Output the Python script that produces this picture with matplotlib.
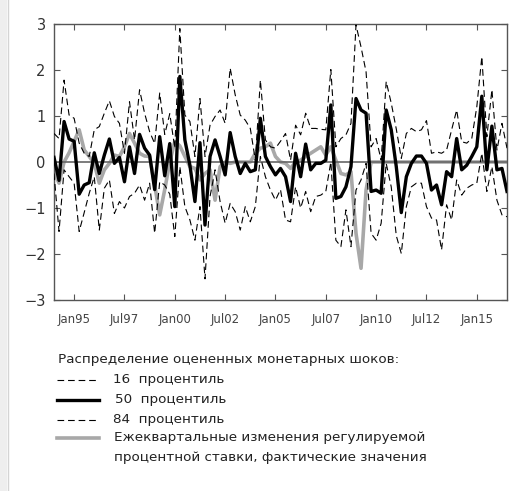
import numpy as np
import matplotlib
matplotlib.use("Agg")
import matplotlib.pyplot as plt
from matplotlib.lines import Line2D
from matplotlib.patches import Rectangle

# quarterly data, 1994Q1 .. 2016Q3
p50 = [0.1, -0.4, 0.88, 0.5, 0.45, -0.7, -0.5, -0.45, 0.2, -0.25,
       0.15, 0.5, -0.03, 0.1, -0.43, 0.33, -0.25, 0.6, 0.3, 0.15,
       -0.6, 0.55, -0.3, 0.4, -0.97, 1.86, 0.48, -0.07, -0.86, 0.42,
       -1.37, 0.12, 0.48, 0.12, -0.28, 0.64, 0.12, -0.25, -0.03, -0.21,
       -0.17, 0.95, 0.12, -0.1, -0.28, -0.14, -0.32, -0.86, 0.19, -0.32,
       0.39, -0.17, -0.03, -0.03, 0.04, 1.24, -0.79, -0.75, -0.54, -0.1,
       1.38, 1.13, 1.06, -0.64, -0.61, -0.68, 1.13, 0.7, -0.1, -1.1,
       -0.32, -0.03, 0.13, 0.13, -0.03, -0.61, -0.5, -0.93, -0.21, -0.32,
       0.51, -0.17, -0.07, 0.12, 0.33, 1.43, -0.17, 0.78, -0.17, -0.14,
       -0.64]
p84 = [0.62, 0.51, 1.78, 1.02, 0.95, 0.41, 0.19, 0.12, 0.7, 0.77,
       1.06, 1.33, 0.99, 0.84, 0.19, 1.31, 0.48, 1.57, 1.06, 0.66,
       0.4, 1.5, 0.6, 1.05, 0.3, 2.9, 1.02, 0.88, 0.12, 1.38,
       0.12, 0.8, 0.99, 1.13, 0.84, 2.04, 1.46, 1.02, 0.91, 0.73,
       0.04, 1.78, 0.48, 0.33, 0.3, 0.45, 0.62, 0.04, 0.8, 0.59,
       1.06, 0.73, 0.73, 0.71, 0.7, 2.01, 0.33, 0.51, 0.59, 0.84,
       2.98, 2.5, 1.96, 0.33, 0.51, 0.04, 1.75, 1.28, 0.72, 0.08,
       0.62, 0.73, 0.66, 0.7, 0.9, 0.19, 0.22, 0.19, 0.26, 0.7,
       1.13, 0.44, 0.41, 0.51, 1.2, 2.29, 0.55, 1.57, 0.26, 0.84,
       0.3]
p16 = [-0.25, -1.51, -0.17, -0.32, -0.46, -1.51, -1.1, -0.68, -0.32, -1.48,
       -0.57, -0.39, -1.12, -0.86, -1.0, -0.75, -0.68, -0.5, -0.83, -0.46,
       -1.55, -0.43, -0.5, -0.7, -1.62, -0.1, -0.97, -1.26, -1.7, -0.97,
       -2.54, -0.75, -0.17, -0.86, -1.33, -0.9, -1.08, -1.48, -0.97, -1.3,
       -0.97, 0.12, -0.32, -0.61, -0.83, -0.6, -1.26, -1.3, -0.54, -1.0,
       -0.64, -1.08, -0.75, -0.72, -0.64, 0.0, -1.7, -1.84, -1.04, -1.84,
       -0.61, -0.39, -0.03, -1.55, -1.7, -1.33, -0.03, -0.54, -1.6, -1.99,
       -0.97, -0.54, -0.46, -0.46, -0.97, -1.22, -1.26, -1.91, -0.93, -1.26,
       -0.39, -0.72, -0.57, -0.5, -0.46, 0.19, -0.64, -0.1, -0.83, -1.15,
       -1.19]
rate = [-0.21, -0.46, 0.0, 0.2, 0.45, 0.7, 0.26, 0.12, -0.03, -0.46,
        -0.17, -0.03, 0.15, 0.12, 0.33, 0.62, 0.41, 0.19, 0.13, 0.12,
        -0.5, -1.15, -0.6, 0.0, 0.45, 0.35, 0.12, -0.1, -0.14, -0.39,
        -0.25, -0.17, -0.83, -0.1, 0.0, -0.03, 0.0, 0.0, 0.0, 0.0,
        0.19, 0.3, 0.33, 0.41, 0.12, 0.0, -0.03, -0.14, 0.0, 0.04,
        0.12, 0.19, 0.26, 0.33, 0.15, 0.33, 0.04, -0.25, -0.28, -0.21,
        -1.55, -2.31, -0.61, 0.0, 0.0, 0.0, 0.0, 0.0, 0.0, 0.0,
        0.0, 0.0, 0.0, 0.0, 0.0, 0.0, 0.0, 0.0, 0.0, 0.0,
        0.0, 0.0, 0.0, 0.0, 0.0, 0.0, 0.0, 0.0, 0.0, 0.0,
        0.0]

t = 1994 + 0.25 * np.arange(len(p50))
tick_pos = [1995, 1997.5, 2000, 2002.5, 2005, 2007.5, 2010, 2012.5, 2015]
tick_lab = ['Jan95', 'Jul97', 'Jan00', 'Jul02', 'Jan05', 'Jul07', 'Jan10', 'Jul12', 'Jan15']

plt.rcParams['font.family'] = ['DejaVu Sans']
W, H = 521, 491
fig = plt.figure(figsize=(W / 100, H / 100), dpi=100)
ax = fig.add_axes([54 / W, 1 - 300 / H, (507 - 54) / W, (300 - 24) / H])

dash = (0, (6, 3.5))
ax.plot(t, rate, color='#a8a8a8', lw=2.6, zorder=2)
ax.axhline(0, color='#666666', lw=1.2, zorder=3)
ax.plot(t, p84, color='black', lw=0.8, linestyle=dash, zorder=4)
ax.plot(t, p16, color='black', lw=0.8, linestyle=dash, zorder=4)
ax.plot(t, p50, color='black', lw=2.4, zorder=5)

ax.set_xlim(1994, 2016.5)
ax.set_ylim(-3, 3)
ax.set_xticks(tick_pos)
ax.set_xticklabels(tick_lab)
ax.set_yticks([-3, -2, -1, 0, 1, 2, 3])
ax.tick_params(direction='in', length=4, width=0.8, color='#555555',
               top=True, right=True, labelsize=8.5, labelcolor='#444444')
ax.tick_params(axis='x', pad=9)
ax.tick_params(axis='y', labelsize=10.5, pad=6, labelcolor='#333333')
for s in ax.spines.values():
    s.set_color('#555555')
    s.set_linewidth(1.0)

# legend below the chart
def fx(px):
    return px / W

def fy(py):
    return 1 - py / H

fs = 9.7
fig.text(fx(58), fy(359), 'Распределение оцененных монетарных шоков:',
         fontsize=fs, color='#222222', va='center')
rows = [
    (380, dict(color='black', lw=0.8, linestyle=dash), 113, '16  процентиль'),
    (400, dict(color='black', lw=2.4), 115, '50  процентиль'),
    (420, dict(color='black', lw=0.8, linestyle=dash), 113, '84  процентиль'),
    (438, dict(color='#a8a8a8', lw=2.6), 114, 'Ежеквартальные изменения регулируемой'),
]
for py, style, tx, lab in rows:
    fig.add_artist(Line2D([fx(57), fx(99)], [fy(py), fy(py)], transform=fig.transFigure, **style))
    fig.text(fx(tx), fy(py), lab, fontsize=fs, color='#222222', va='center')
fig.text(fx(114), fy(457), 'процентной ставки, фактические значения',
         fontsize=fs, color='#222222', va='center')

# light frame on the left edge
fig.add_artist(Rectangle((0, 0), fx(7), 1, transform=fig.transFigure,
                         color='#eeeeee', lw=0))
fig.add_artist(Line2D([fx(7.5), fx(7.5)], [0, 1], transform=fig.transFigure,
                      color='#d4d4d4', lw=1))

fig.savefig('out.png', dpi=100)
